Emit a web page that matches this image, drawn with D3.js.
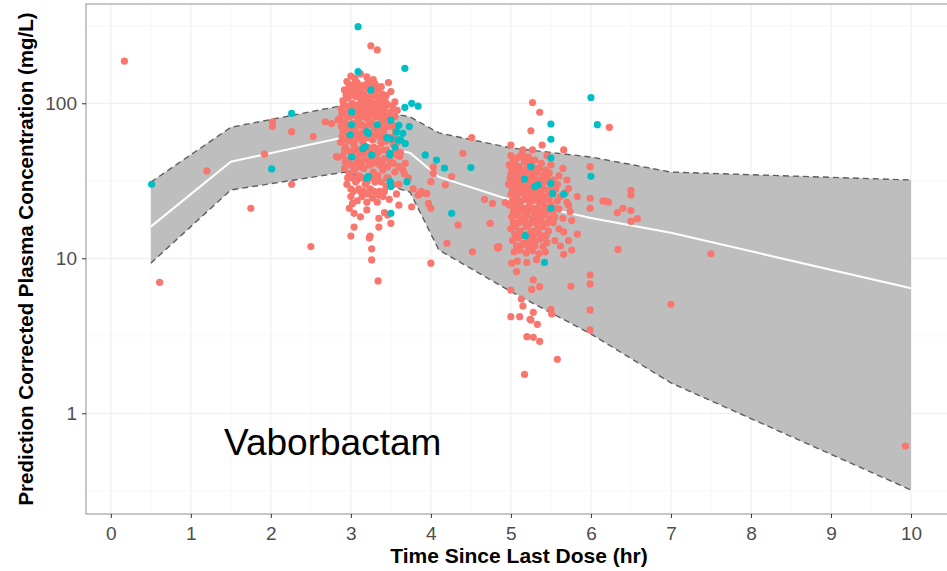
<!DOCTYPE html>
<html>
<head>
<meta charset="utf-8">
<script src="https://cdn.jsdelivr.net/npm/d3@7/dist/d3.min.js"></script>
<style>
  body { margin: 0; background: #fff; }
  svg { display: block; }
  text { font-family: "Liberation Sans", Arial, Helvetica, sans-serif; }
</style>
</head>
<body>
<div id="chart"></div>
<script>
// tick labels
const xTicks = [0, 1, 2, 3, 4, 5, 6, 7, 8, 9, 10];
const yTicks = [1, 10, 100];

// VPC band: time bins, 5th / 50th / 95th percentile of prediction corrected conc
const bandTime = [0.5, 1.5, 2.93, 3.74, 4.1, 5.0, 6.0, 7.0, 10.0];
const bandLow  = [9.3, 27.6, 36, 26.7, 11.3, 6.1, 3.25, 1.57, 0.32];
const bandMed  = [16, 42, 60.5, 47.8, 33.5, 23.7, 18.2, 14.6, 6.4];
const bandHigh = [31, 70, 97.5, 81.7, 64.4, 51.5, 45, 36, 32];

// observed points [time (hr), conc (mg/L)] - red group
const obsRed = [
  // early
  [0.17,187],[0.61,7.0],[1.2,36.6],[1.75,21],[1.92,47],[2.02,76],[2.02,70.7],[2.26,65.6],[2.26,30],
  [2.5,11.9],[2.53,61],[2.68,76],[2.76,74],[2.84,78],[2.82,45.3],[2.84,45],
  // cluster ~3 hr, outliers
  [3.25,235],[3.33,221],[3.47,136],[3.5,119],[3.37,110],[3.24,102],[3.42,90.6],
  [3.02,22.6],[3.04,19.5],[3.04,15.9],[3.0,13.9],[3.24,13.9],[3.23,13.5],[3.35,18.1],[3.35,15.9],
  [3.26,11.5],[3.26,9.76],[3.34,7.14],[3.42,19.7],[3.46,19],[3.5,16.8],[3.76,21.5],[3.6,22],
  [3.2,20.5],[3.12,18.5],[2.98,21],[3.6,39],[3.67,35],[3.86,26],[3.95,26.1],
  [3.58,56],[3.62,48],[3.6,30],[3.57,26],
  // cluster ~3 hr, core
  [3.0,150],[3.05,145],[3.12,155],[3.2,148],[3.28,142],
  [2.95,138],[3.02,132],[3.08,136],[3.15,130],[3.22,140],[3.3,134],[3.38,128],
  [2.98,128],[3.06,127],[3.13,126],[3.19,132],[3.26,129],[3.34,126],
  [2.92,122],[2.98,118],[3.04,125],[3.1,120],[3.16,115],[3.21,124],[3.27,118],[3.33,122],[3.44,112],
  [2.94,113],[3.0,112],[3.06,116],[3.12,111],[3.19,110],[3.25,114],[3.31,111],[3.39,115],
  [2.9,104],[2.96,108],[3.02,100],[3.07,110],[3.13,104],[3.18,98],[3.24,108],[3.3,100],[3.36,104],[3.46,98],[3.55,102],
  [2.91,98],[2.97,96],[3.04,95],[3.1,98],[3.15,96],[3.21,101],[3.27,96],[3.33,97],[3.39,95],[3.43,102],[3.52,96],
  [2.88,92],[2.94,88],[3.0,95],[3.05,86],[3.11,91],[3.17,84],[3.22,94],[3.28,88],[3.34,92],[3.4,85],[3.5,88],[3.58,90],
  [2.89,86],[2.95,83],[3.02,84],[3.08,85],[3.14,82],[3.19,88],[3.25,84],[3.31,86],[3.38,81],[3.46,83],[3.55,82],
  [2.86,80],[2.92,76],[2.98,82],[3.03,74],[3.09,79],[3.14,72],[3.2,80],[3.26,75],[3.31,82],[3.37,74],[3.43,78],[3.52,72],
  [2.88,71],[2.95,70],[3.0,73],[3.06,70],[3.11,74],[3.17,71],[3.23,73],[3.28,71],[3.34,70],[3.4,72],[3.47,71],[3.55,69],
  [2.9,66],[2.96,62],[3.01,68],[3.06,64],[3.12,60],[3.18,67],[3.23,63],[3.29,69],[3.35,61],[3.41,66],[3.48,60],[3.56,64],
  [2.89,61],[2.94,58],[3.0,62],[3.07,59],[3.13,64],[3.2,60],[3.26,61],[3.32,64],[3.38,60],[3.44,57],[3.52,60],
  [2.87,56],[2.93,52],[2.99,57],[3.04,54],[3.1,50],[3.15,56],[3.21,52],[3.27,58],[3.32,51],[3.38,55],[3.45,50],[3.53,54],
  [2.92,50],[2.98,49],[3.05,51],[3.11,47],[3.17,50],[3.23,49],[3.29,52],[3.34,48],[3.41,50],[3.48,47],[3.56,50],
  [2.9,46],[2.97,43],[3.02,48],[3.08,44],[3.13,41],[3.19,47],[3.25,43],[3.3,46],[3.36,40],[3.42,44],[3.5,42],[3.58,46],
  [2.93,42],[3.0,40],[3.06,41],[3.11,39],[3.17,43],[3.23,40],[3.28,41],[3.34,43],[3.39,41],[3.46,39],[3.53,41],
  [2.92,38],[2.98,35],[3.04,37],[3.1,34],[3.16,38],[3.22,33],[3.28,36],[3.34,34],[3.4,37],[3.47,33],[3.55,36],
  [2.96,33],[3.02,33],[3.08,32],[3.14,33],[3.2,31],[3.26,33],[3.32,32],[3.38,31],[3.45,33],
  [2.95,30],[3.0,28],[3.06,31],[3.12,27],[3.18,30],[3.24,28],[3.3,31],[3.36,27],[3.44,29],[3.52,30],
  [3.03,27],[3.1,28],[3.16,27],[3.22,26],[3.29,27],[3.35,25.5],[3.42,27],
  [3.0,25],[3.08,23.5],[3.14,25],[3.2,23],[3.27,24.5],[3.33,23],[3.4,25],[3.48,24],
  // between the clusters
  [3.61,45.3],[3.68,41],[3.88,26.9],[3.84,25.5],[3.97,22.6],[4.0,21],[4.0,31.2],[4.26,33.7],[4.34,16.4],
  [4.2,12.5],[4.0,9.3],[4.52,11.0],[4.67,24.0],[4.77,22.6],[4.74,16.8],[4.84,11.6],[4.51,60],[4.4,47.6],
  [4.03,38.7],[4.03,35.3],[3.94,26.2],[4.18,29.8],[4.85,11.9],[4.93,22.9],[3.65,37],[3.72,33],[3.78,28],
  // cluster ~5 hr, outliers
  [5.27,101],[5.36,87.5],[6.23,70],[5.25,66.5],[5.39,53.8],[5.66,50],[5.0,53.8],[5.15,50],[5.27,50],
  [5.99,39],[5.72,28.2],[5.83,25],[5.99,24.4],[6.15,23.4],[5.99,21],[5.72,22],[5.74,20],[5.6,20.8],
  [5.65,18.1],[5.76,17.5],
  [5.65,38],[5.7,32],[5.68,26.5],[5.7,23],[5.66,14.8],[5.72,13],[5.62,12],
  [4.83,11.8],[5.83,14.3],[5.76,11.3],[5.66,10.6],[5.99,7.8],[5.99,6.83],[5.75,6.6],[5.99,4.64],
  [5.99,3.45],[5.5,4.69],[5.51,4.37],[5.36,6.56],[5.26,6.3],[5.28,7.25],[5.0,6.24],[5.13,5.46],
  [5.15,4.92],[5.0,4.2],[5.11,4.2],[5.24,4.04],[5.33,3.75],[5.2,3.12],[5.28,3.09],[5.36,2.91],
  [5.58,2.23],[5.17,1.78],[5.01,9.3],[5.07,8.2],[5.28,4.48],[5.25,4.0],
  // cluster ~5 hr, core
  [5.0,46],[5.07,44],[5.14,47],[5.22,45],[5.3,43],[5.45,46],
  [5.03,43],[5.1,45],[5.18,44],[5.26,42],
  [4.98,40],[5.04,41],[5.1,39],[5.17,42],[5.24,40],[5.31,38],[5.38,41],[5.5,40],
  [5.01,38],[5.07,38],[5.14,37],[5.21,38.5],[5.28,37],[5.35,38],[5.43,37],
  [5.0,35],[5.06,36.5],[5.12,34],[5.19,36],[5.26,34.5],[5.33,36],[5.4,34],[5.48,35.5],[5.6,34],
  [4.99,33],[5.05,33],[5.11,32],[5.17,33.5],[5.23,32],[5.3,33],[5.37,32],[5.45,33],[5.53,32],
  [4.97,30],[5.03,31],[5.09,29.5],[5.15,31],[5.21,29],[5.28,30.5],[5.35,29],[5.42,31],[5.5,29.5],[5.58,30],
  [5.02,28],[5.08,27.5],[5.14,28.5],[5.2,27.5],[5.27,28],[5.33,27],[5.4,28],[5.47,27.5],[5.56,28],
  [5.0,26],[5.06,25],[5.12,26.5],[5.18,25],[5.25,26],[5.32,24.5],[5.38,26],[5.45,25],[5.53,26],[5.62,25],
  [5.02,23.5],[5.08,24],[5.14,23.5],[5.21,24],[5.27,23.5],[5.34,24],[5.41,23.5],[5.48,24],[5.58,23.5],
  [4.98,22],[5.04,21.5],[5.1,22.5],[5.16,21],[5.23,22],[5.3,21],[5.36,22.5],[5.43,21.5],[5.5,22],[5.57,21],
  [5.03,20],[5.09,20.5],[5.15,20],[5.22,20.5],[5.29,19.8],[5.36,20.3],[5.44,20],[5.52,20],
  [5.01,18.5],[5.07,19],[5.13,18],[5.2,19],[5.27,18],[5.34,18.5],[5.41,19],[5.48,18],[5.55,18.5],
  [5.03,17],[5.1,17],[5.17,17.3],[5.24,16.8],[5.31,17],[5.38,17.2],[5.45,16.8],[5.53,17],
  [5.0,15.5],[5.06,16],[5.12,15],[5.19,16],[5.26,15],[5.33,15.5],[5.4,16],[5.47,15],[5.6,15.5],
  [5.05,14.3],[5.12,14],[5.2,14.2],[5.28,14],[5.36,14.3],[5.44,14],
  [5.02,13],[5.09,13.5],[5.16,12.5],[5.23,13],[5.3,12.8],[5.37,13.3],[5.45,12.6],[5.55,13],
  [5.07,12],[5.14,12.2],[5.22,11.8],[5.3,12],[5.4,11.9],
  [5.04,11],[5.11,11.3],[5.19,10.8],[5.27,11.2],[5.35,10.7],[5.43,11],
  [5.08,9.6],[5.2,9.4],[5.32,9.8],
  // late
  [6.5,27.4],[6.5,25.5],[6.18,23.4],[6.22,23],[6.33,19.7],[6.4,21],[6.5,20.3],[6.5,17.3],[6.58,18],
  [6.34,11.4],[7.5,10.7],[7.0,5.05],[9.93,0.615]
];

// observed points - teal group
const obsTeal = [
  [0.51,30],[2.01,37.7],[2.26,86],
  [3.09,312],[3.09,160],[3.675,168],[3.76,100],[3.84,96],[3.675,94],[3.25,122],[3.49,31.2],[3.22,33.8],
  [3.7,31.2],[3.5,29],[3.26,46.4],[3.01,45.2],[3.49,46.4],[3.5,78],[3.57,65.6],[3.65,64],[3.73,70.7],
  [3.01,88],[3.01,72.6],[2.99,62.6],[3.18,52.5],[3.33,72.6],[3.2,65.6],[3.49,47.6],[3.2,32.9],[3.5,19.5],
  [3.6,72],[3.62,58],[3.45,60],[3.68,55],[3.55,52],[3.15,51],[3.5,59],[3.59,58],[3.22,64],
  [3.93,46.4],[4.07,43],[4.17,38.2],[4.5,38.5],[4.26,19.5],
  [6.0,109],[6.08,72.8],[5.5,73.5],[5.5,58.6],[5.5,44.3],[6.0,33.8],[5.25,39],[5.17,32.4],[5.3,29],
  [5.34,29.8],[5.5,30.4],[5.52,26.2],[5.66,25.9],[5.5,21],[5.18,14],[5.42,9.4]
];

const width = 947, height = 571;
const panel = { l: 86, t: 4, r: 952, b: 514 };

const svg = d3.select('#chart').append('svg')
  .attr('width', width)
  .attr('height', height);

svg.append('rect').attr('width', width).attr('height', height).attr('fill', '#fff');

// scales (ggplot style 5% expansion on both)
const scaleX = d3.scaleLinear().domain([-0.31, 10.45]).range([86, 947]);
const scaleY = d3.scaleLog().domain([0.224, 437]).range([panel.b, panel.t]);

const plot = svg.append('g').attr('class', 'plot');

// grid
const xMinor = d3.range(0.5, 10, 1);
const yMinor = [0.316, 3.16, 31.6, 316];

plot.selectAll('.gx-minor').data(xMinor).enter().append('line')
  .attr('class', 'gx-minor')
  .attr('x1', d => scaleX(d)).attr('x2', d => scaleX(d))
  .attr('y1', panel.t).attr('y2', panel.b)
  .style('stroke', '#f4f4f4').style('stroke-width', 0.7);
plot.selectAll('.gy-minor').data(yMinor).enter().append('line')
  .attr('class', 'gy-minor')
  .attr('x1', panel.l).attr('x2', panel.r)
  .attr('y1', d => scaleY(d)).attr('y2', d => scaleY(d))
  .style('stroke', '#f4f4f4').style('stroke-width', 0.7);
plot.selectAll('.gx').data(xTicks).enter().append('line')
  .attr('class', 'gx')
  .attr('x1', d => scaleX(d)).attr('x2', d => scaleX(d))
  .attr('y1', panel.t).attr('y2', panel.b)
  .style('stroke', '#ececec').style('stroke-width', 1);
plot.selectAll('.gy').data(yTicks).enter().append('line')
  .attr('class', 'gy')
  .attr('x1', panel.l).attr('x2', panel.r)
  .attr('y1', d => scaleY(d)).attr('y2', d => scaleY(d))
  .style('stroke', '#ececec').style('stroke-width', 1);

// band
const band = bandTime.map((t, i) => ({ t, lo: bandLow[i], med: bandMed[i], hi: bandHigh[i] }));

const area = d3.area()
  .x(d => scaleX(d.t))
  .y0(d => scaleY(d.lo))
  .y1(d => scaleY(d.hi));

plot.append('path').datum(band)
  .attr('d', area)
  .style('fill', '#bebebe');

const lineLo = d3.line().x(d => scaleX(d.t)).y(d => scaleY(d.lo));
const lineHi = d3.line().x(d => scaleX(d.t)).y(d => scaleY(d.hi));
const lineMed = d3.line().x(d => scaleX(d.t)).y(d => scaleY(d.med));

[lineLo, lineHi].forEach(fn => {
  plot.append('path').datum(band)
    .attr('d', fn)
    .style('fill', 'none')
    .style('stroke', '#5f5f5f')
    .style('stroke-width', 1.4)
    .style('stroke-dasharray', '6 4');
});

plot.append('path').datum(band)
  .attr('d', lineMed)
  .style('fill', 'none')
  .style('stroke', '#ffffff')
  .style('stroke-width', 2);

// points: red first, teal on top
plot.selectAll('.pt-red').data(obsRed).enter().append('circle')
  .attr('class', 'pt-red')
  .attr('cx', d => scaleX(d[0]))
  .attr('cy', d => scaleY(d[1]))
  .attr('r', 3.6)
  .style('fill', '#F8766D');

plot.selectAll('.pt-teal').data(obsTeal).enter().append('circle')
  .attr('class', 'pt-teal')
  .attr('cx', d => scaleX(d[0]))
  .attr('cy', d => scaleY(d[1]))
  .attr('r', 3.6)
  .style('fill', '#00BFC4');

// panel border
svg.append('rect')
  .attr('x', panel.l).attr('y', panel.t)
  .attr('width', panel.r - panel.l + 10).attr('height', panel.b - panel.t)
  .style('fill', 'none')
  .style('stroke', '#b5b5b5')
  .style('stroke-width', 1.5);

// axes
const axisX = d3.axisBottom(scaleX).tickValues(xTicks).tickSize(4).tickPadding(9).tickFormat(d3.format('d'));
const axisY = d3.axisLeft(scaleY).tickValues(yTicks).tickSize(4).tickPadding(5).tickFormat(d3.format('d'));

const axisXNode = svg.append('g').attr('class', 'axis-x')
  .attr('transform', `translate(0,${panel.b})`)
  .call(axisX);
const axisYNode = svg.append('g').attr('class', 'axis-y')
  .attr('transform', `translate(${panel.l},0)`)
  .call(axisY);

[axisXNode, axisYNode].forEach(n => {
  n.select('.domain').remove();
  n.selectAll('line').style('stroke', '#333').style('stroke-width', 1);
  n.selectAll('text')
    .style('font-family', '"Liberation Sans", Arial, sans-serif')
    .style('font-size', '19px')
    .style('fill', '#4d4d4d');
});

// titles
svg.append('text')
  .attr('x', 519).attr('y', 563)
  .attr('text-anchor', 'middle')
  .style('font-size', '21px').style('font-weight', 'bold').style('fill', '#000')
  .text('Time Since Last Dose (hr)');

svg.append('text')
  .attr('transform', 'translate(33,259) rotate(-90)')
  .attr('text-anchor', 'middle')
  .style('font-size', '20.5px').style('font-weight', 'bold').style('fill', '#000')
  .text('Prediction Corrected Plasma Concentration (mg/L)');

svg.append('text')
  .attr('x', 224).attr('y', 455)
  .style('font-size', '37px').style('fill', '#000')
  .text('Vaborbactam');
</script>
</body>
</html>
